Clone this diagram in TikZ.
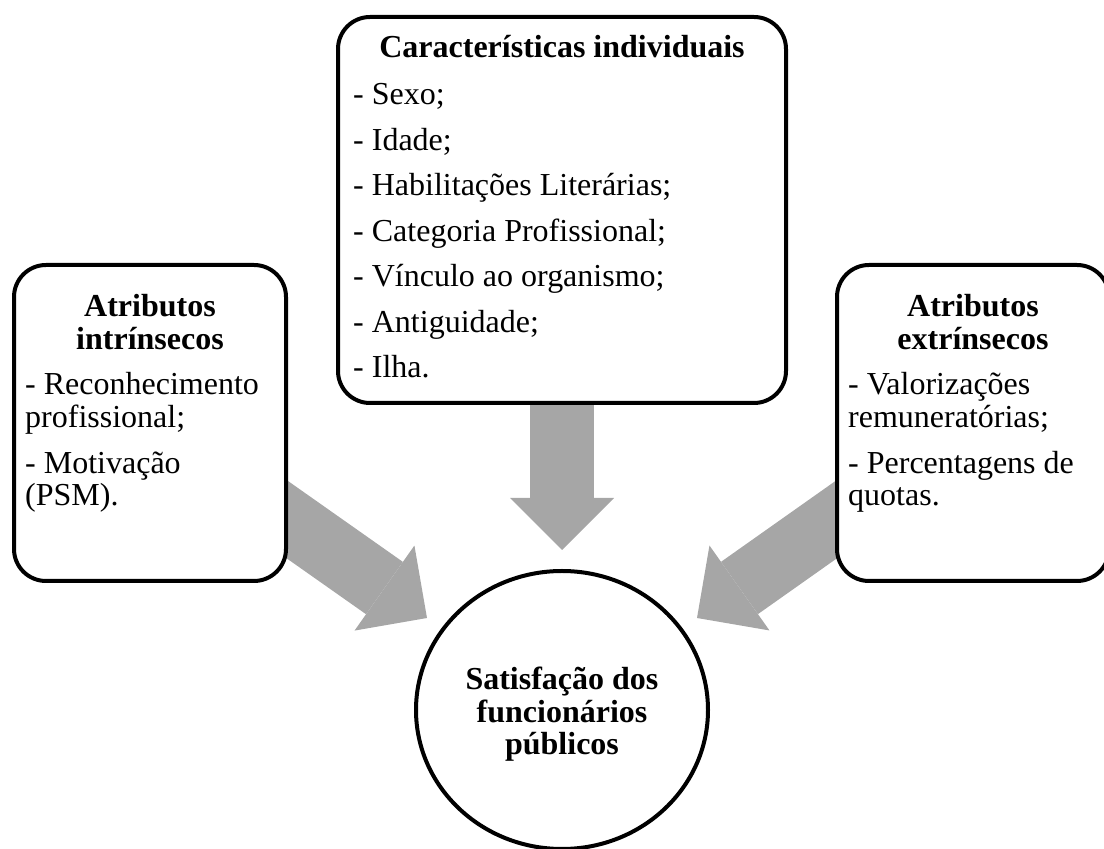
\documentclass[tikz,border=0pt]{standalone}
\usepackage{fontspec}
\setmainfont{Liberation Serif}
\usetikzlibrary{arrows.meta,shapes.geometric,backgrounds}
\definecolor{arrowgray}{HTML}{A6A6A6}
\newcommand{\boxlines}[2]{\begin{tabular}[t]{@{}#1@{}}#2\end{tabular}}
\tikzset{
	box/.style={draw, line width=4pt, rounded corners=32pt, fill=white, inner sep=0pt},
	boxhead/.style={font=\bfseries\fontsize{32}{32.5}\selectfont, inner sep=0pt, anchor=base},
	boxtext/.style={font=\fontsize{32}{32.5}\selectfont, inner sep=0pt, anchor=base west},
	bigarrow/.style={arrowgray, line width=64pt, -{Triangle[length=52pt,width=104pt,line width=0pt]}}
}
\begin{document}
\begin{tikzpicture}[x=1pt,y=1pt]
	\useasboundingbox (0,0) rectangle (1104,849);
	\clip (0,0) rectangle (1104,849);
	
	% Boxes and the circle
	\node[box, minimum width=448pt, minimum height=386pt] (indiv) at (562,639) {};
	\node[box, minimum width=272pt, minimum height=316pt] (intr) at (150,426) {};
	\node[box, minimum width=272pt, minimum height=316pt] (extr) at (973,426) {};
	\node[ellipse, draw, line width=4pt, fill=white, minimum width=292pt, minimum height=278pt] (sat) at (562,139) {};
	
	% Texts
	\node[boxhead] (indivhead) at (562,791) {Características individuais};
	\node[boxtext, font=\fontsize{32}{45.5}\selectfont] (indivlist) at (353,744) {\boxlines{l}{
			- Sexo;\\
			- Idade;\\
			- Habilitações Literárias;\\
			- Categoria Profissional;\\
			- Vínculo ao organismo;\\
			- Antiguidade;\\
			- Ilha.}};
	
	\node[boxhead] (intrhead) at (150,532) {\boxlines{c}{Atributos\\intrínsecos}};
	\node[boxtext] (intrlist) at (25,454) {\boxlines{l}{
			- Reconhecimento\\
			profissional;\\[13.5pt]
			- Motivação\\
			(PSM).}};
	
	\node[boxhead] (extrhead) at (973,532) {\boxlines{c}{Atributos\\extrínsecos}};
	\node[boxtext] (extrlist) at (848,454) {\boxlines{l}{
			- Valorizações\\
			remuneratórias;\\[13.5pt]
			- Percentagens de\\
			quotas.}};
	
	\node[boxhead] (sathead) at (562,159) {\boxlines{c}{Satisfação dos\\funcionários\\públicos}};
	
	% Gray arrows towards the circle
	\coordinate (ltip) at (427,231);
	\coordinate (dtip) at (562,299);
	\coordinate (rtip) at (697,231);
	\begin{scope}[on background layer]
		\draw[bigarrow] (intr.center) -- (ltip);
		\draw[bigarrow] (indiv.center) -- (dtip);
		\draw[bigarrow] (extr.center) -- (rtip);
	\end{scope}
	
\end{tikzpicture}
\end{document}
